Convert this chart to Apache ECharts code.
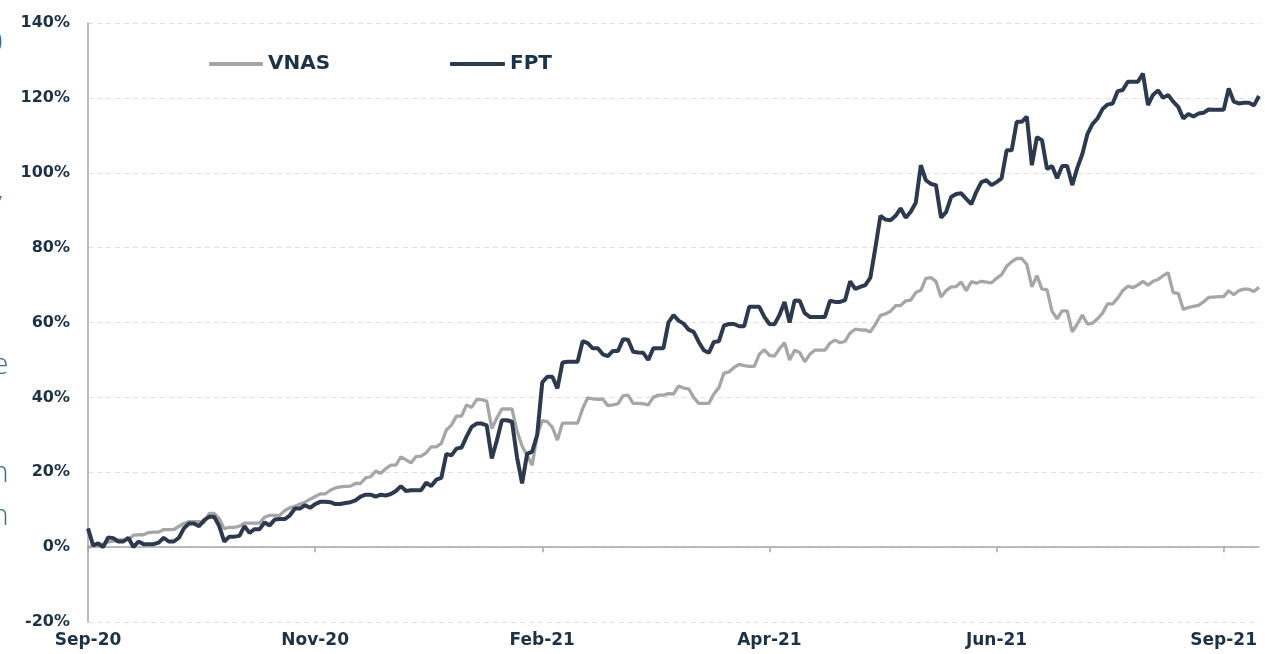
<!DOCTYPE html>
<html>
<head>
<meta charset="utf-8">
<script src="https://cdn.jsdelivr.net/npm/echarts@6/dist/echarts.min.js"></script>
<style>
  html, body { margin: 0; padding: 0; background: #fff; }
  #chart { width: 1265px; height: 654px; }
</style>
</head>
<body>
<div id="chart"></div>
<script>
// x axis labels, one every 45 trading days
var tickLabels = ['Sep-20', 'Nov-20', 'Feb-21', 'Apr-21', 'Jun-21', 'Sep-21'];
var tickStep = 45;

// cumulative return, %
var vnas = [
  0.0, 0.2, 0.5, 0.8, 1.4, 1.6, 1.9, 1.9, 2.0, 3.2,
  3.3, 3.3, 3.9, 4.0, 4.0, 4.7, 4.7, 4.7, 5.5, 6.3,
  6.8, 6.8, 6.8, 6.5, 9.0, 9.0, 7.6, 4.9, 5.3, 5.3,
  5.6, 6.4, 6.4, 6.4, 6.4, 8.0, 8.5, 8.5, 8.5, 9.8,
  10.5, 10.9, 11.5, 12.0, 12.8, 13.5, 14.2, 14.2, 15.2, 15.8,
  16.1, 16.2, 16.3, 17.0, 17.0, 18.5, 18.8, 20.3, 19.7, 21.0,
  21.9, 21.9, 24.1, 23.3, 22.5, 24.2, 24.3, 25.2, 26.8, 26.8,
  27.7, 31.3, 32.6, 35.0, 35.0, 38.0, 37.3, 39.4, 39.4, 39.0,
  31.7, 34.5, 36.9, 36.9, 36.9, 31.0, 27.0, 24.5, 21.9, 30.0,
  33.8, 33.5, 32.0, 28.6, 33.1, 33.1, 33.1, 33.1, 37.0, 39.9,
  39.6, 39.5, 39.5, 37.8, 38.0, 38.3, 40.4, 40.6, 38.4, 38.4,
  38.3, 38.0, 40.0, 40.6, 40.6, 41.0, 40.9, 43.0, 42.5, 42.3,
  40.0, 38.4, 38.4, 38.4, 40.9, 42.6, 46.5, 46.8, 48.0, 48.8,
  48.5, 48.3, 48.3, 51.5, 52.7, 51.2, 51.0, 53.0, 54.6, 50.0,
  52.6, 52.0, 49.5, 51.5, 52.6, 52.6, 52.6, 54.5, 55.3, 54.6,
  55.0, 57.2, 58.2, 58.0, 58.0, 57.5, 59.5, 61.9, 62.3, 63.0,
  64.5, 64.5, 65.8, 66.0, 68.0, 68.6, 71.8, 72.0, 71.0, 66.8,
  68.5, 69.5, 69.6, 70.8, 68.5, 70.9, 70.5, 71.0, 70.8, 70.6,
  71.8, 72.8, 75.0, 76.2, 77.1, 77.1, 75.5, 69.5, 72.5, 68.9,
  68.8, 63.0, 61.0, 63.1, 63.1, 57.5, 59.6, 62.0, 59.6, 59.8,
  61.0, 62.5, 65.0, 65.0, 66.5, 68.5, 69.7, 69.3, 70.0, 71.0,
  70.0, 71.0, 71.5, 72.5, 73.3, 68.0, 67.8, 63.5, 64.0, 64.3,
  64.6, 65.5, 66.7, 66.8, 66.9, 66.9, 68.5, 67.4, 68.5, 68.9,
  68.9, 68.3, 69.4
];
var fpt = [
  5.0, 0.5, 1.0, 0.0, 2.6, 2.4, 1.5, 1.5, 2.5, 0.0,
  1.5, 0.8, 0.8, 0.8, 1.2, 2.5, 1.5, 1.5, 2.5, 5.0,
  6.3, 6.3, 5.6, 7.2, 8.1, 8.1, 5.6, 1.5, 2.8, 2.8,
  3.0, 5.6, 3.8, 4.8, 4.8, 6.6, 5.8, 7.4, 7.5, 7.5,
  8.5, 10.3, 10.3, 11.2, 10.5, 11.5, 12.1, 12.1, 12.0, 11.5,
  11.5, 11.8, 12.0, 12.5, 13.5, 14.0, 14.0, 13.5, 14.0, 13.8,
  14.2, 15.0, 16.3, 15.0, 15.2, 15.2, 15.2, 17.2, 16.3, 18.0,
  18.5, 24.9, 24.5, 26.3, 26.6, 29.5, 32.1, 33.0, 33.0, 32.5,
  23.7, 28.5, 33.9, 33.9, 33.5, 24.0, 17.0, 24.9, 25.5, 30.0,
  44.0, 45.5, 45.5, 42.4, 49.3, 49.5, 49.5, 49.5, 55.0, 54.5,
  53.1, 53.1, 51.5, 51.0, 52.4, 52.4, 55.5, 55.4, 52.2, 52.0,
  51.9, 50.0, 53.1, 53.1, 53.1, 60.0, 62.0, 60.5, 59.7, 58.1,
  57.5, 54.8, 52.6, 51.9, 54.8, 55.0, 59.2, 59.6, 59.6, 59.0,
  59.0, 64.2, 64.2, 64.2, 61.5, 59.6, 59.5, 62.0, 65.5, 60.0,
  65.9, 65.8, 62.5, 61.5, 61.5, 61.5, 61.5, 65.8, 65.5, 65.5,
  66.0, 71.0, 69.0, 69.5, 70.0, 72.0, 80.0, 88.5, 87.5, 87.3,
  88.5, 90.5, 88.0, 89.6, 92.0, 102.0, 98.0, 97.0, 96.7, 88.0,
  89.5, 93.5, 94.3, 94.5, 93.0, 91.6, 94.9, 97.5, 98.0, 96.7,
  97.5, 98.5, 106.0, 106.0, 113.6, 113.6, 115.0, 102.0, 109.5, 108.7,
  101.0, 101.8, 98.5, 101.8, 101.8, 96.7, 101.3, 105.0, 110.3, 113.0,
  114.5, 117.0, 118.2, 118.5, 121.8, 122.1, 124.3, 124.3, 124.3, 126.5,
  118.1, 120.8, 122.0, 120.0, 120.8, 119.0, 117.6, 114.5, 115.7, 115.0,
  115.8, 116.0, 116.9, 116.8, 116.8, 116.8, 122.5, 119.0, 118.5, 118.7,
  118.7, 118.0, 120.5
];

var days = vnas.map(function (v, i) { return i; });

var textColor = '#1e3246';
var axisGray = '#a6a6a6';
var fontName = '"DejaVu Sans"';

var legendText = { color: textColor, fontFamily: fontName, fontWeight: 'bold', fontSize: 20 };

var myChart = echarts.init(document.getElementById('chart'));

myChart.setOption({
  animation: false,
  backgroundColor: '#fff',
  grid: { left: 88, right: 6, top: 23, bottom: 32, containLabel: false },
  legend: [{
    data: ['VNAS'],
    left: 209,
    top: 54,
    icon: 'roundRect',
    itemWidth: 54,
    itemHeight: 4,
    padding: 0,
    textStyle: legendText
  }, {
    data: ['FPT'],
    left: 450,
    top: 54,
    icon: 'roundRect',
    itemWidth: 55,
    itemHeight: 4,
    padding: 0,
    textStyle: legendText
  }],
  xAxis: [{
    // axis line on 0%
    type: 'category',
    data: days,
    boundaryGap: false,
    axisLine: { onZero: true, lineStyle: { color: axisGray, width: 1.5 } },
    axisTick: { show: true, interval: tickStep - 1, length: 5, lineStyle: { color: axisGray, width: 1.5 } },
    axisLabel: { show: false },
    splitLine: { show: false }
  }, {
    // labels at the bottom
    type: 'category',
    data: days,
    boundaryGap: false,
    position: 'bottom',
    axisLine: { show: false, onZero: false },
    axisTick: { show: false },
    axisLabel: {
      interval: tickStep - 1,
      margin: 10,
      color: textColor,
      fontFamily: fontName,
      fontWeight: 'bold',
      fontSize: 17,
      formatter: function (v, idx) { return tickLabels[Math.round(idx / tickStep)] || ''; }
    },
    splitLine: { show: false }
  }],
  yAxis: {
    type: 'value',
    min: -20,
    max: 140,
    interval: 20,
    axisLine: { show: true, lineStyle: { color: axisGray, width: 1.5 } },
    axisTick: { show: false },
    axisLabel: {
      formatter: '{value}%',
      margin: 18,
      color: textColor,
      fontFamily: fontName,
      fontWeight: 'bold',
      fontSize: 16
    },
    splitLine: { show: true, lineStyle: { color: '#dce1e8', width: 1.2, type: [5, 4] } }
  },
  series: [{
    name: 'VNAS',
    type: 'line',
    data: vnas,
    color: '#a6a6a6',
    showSymbol: false,
    lineStyle: { color: '#a6a6a6', width: 3.3 },
    z: 2
  }, {
    name: 'FPT',
    type: 'line',
    data: fpt,
    color: '#2d3a4e',
    showSymbol: false,
    lineStyle: { color: '#2d3a4e', width: 4 },
    z: 3
  }],
  // cut-off letters from the neighbouring text block on the left edge
  graphic: [
    { type: 'text', left: -14, top: 28, style: { text: '0', fill: '#3f6d90', font: '300 30px "Open Sans"' } },
    { type: 'text', left: -12, top: 188, style: { text: 'v', fill: '#3f6d90', font: '300 30px "Open Sans"' } },
    { type: 'text', left: -8, top: 350, style: { text: 'e', fill: '#3f6d90', font: '300 30px "Open Sans"' } },
    { type: 'text', left: -9, top: 458, style: { text: 'n', fill: '#3f6d90', font: '300 30px "Open Sans"' } },
    { type: 'text', left: -9, top: 501, style: { text: 'n', fill: '#3f6d90', font: '300 30px "Open Sans"' } }
  ]
});
</script>
</body>
</html>
